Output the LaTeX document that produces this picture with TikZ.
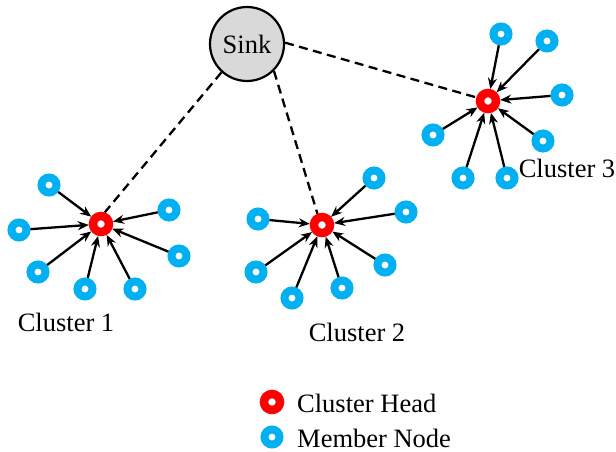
\documentclass[tikz,border=0pt]{standalone}
\usepackage{fontspec}
\setmainfont{Liberation Serif}
\usetikzlibrary{arrows.meta}
\definecolor{headred}{HTML}{FF0000}
\definecolor{memblue}{HTML}{00B0F0}
\definecolor{sinkgray}{HTML}{D9D9D9}
\tikzset{
  member/.style={circle,draw=memblue,line width=8pt,fill=white,inner sep=0pt,minimum size=15pt},
  head/.style={circle,draw=headred,line width=8.5pt,fill=white,inner sep=0pt,minimum size=16pt},
  sink/.style={circle,draw=black,line width=2.2pt,fill=sinkgray,inner sep=0pt,minimum size=74pt,font=\fontsize{26.5}{30}\selectfont},
  lbl/.style={inner sep=0pt,font=\fontsize{26.5}{30}\selectfont},
  link/.style={-{Stealth[length=11pt,width=9pt]},line width=2.3pt,black},
  dlink/.style={line width=2.3pt,black,dash pattern=on 9pt off 5.5pt}
}
\begin{document}
\begin{tikzpicture}[x=1pt,y=-1pt]
\useasboundingbox (0,0) rectangle (616,452);
% sink
\node[sink] (sink) at (247,44) {Sink};
% heads
\node[head] (h1) at (101,224) {};
\node[head] (h2) at (322,225) {};
\node[head] (h3) at (488,101) {};
% dashed links
\draw[dlink] (sink.228) -- (h1.72);
\draw[dlink] (sink.-45) -- (h2.112);
\draw[dlink] (sink.2) -- (h3.163);
% cluster 1
\node[member] (a1) at (49,185) {};
\node[member] (a2) at (19,230) {};
\node[member] (a3) at (38,272) {};
\node[member] (a4) at (85,289) {};
\node[member] (a5) at (135,289) {};
\node[member] (a6) at (179,256) {};
\node[member] (a7) at (169,210) {};
\foreach \m in {a1,a2,a3,a4,a5,a6,a7} \draw[link] (\m) -- (h1);
% cluster 2
\node[member] (b1) at (374,178) {};
\node[member] (b2) at (406,212) {};
\node[member] (b3) at (385,265) {};
\node[member] (b4) at (342,288) {};
\node[member] (b5) at (292,298) {};
\node[member] (b6) at (256,272) {};
\node[member] (b7) at (258,219) {};
\foreach \m in {b1,b2,b3,b4,b5,b6,b7} \draw[link] (\m) -- (h2);
% cluster 3
\node[member] (c1) at (501,34) {};
\node[member] (c2) at (547,41) {};
\node[member] (c3) at (562,95) {};
\node[member] (c4) at (543,141) {};
\node[member] (c5) at (507,178) {};
\node[member] (c6) at (463,178) {};
\node[member] (c7) at (433,135) {};
\foreach \m in {c1,c2,c3,c4,c5,c6,c7} \draw[link] (\m) -- (h3);
% labels
\node[lbl] (l1) at (66,322) {Cluster 1};
\node[lbl] (l2) at (357,332) {Cluster 2};
\node[lbl] (l3) at (567,168) {Cluster 3};
% legend
\node[head] (lh) at (272,402) {};
\node[member] (lm) at (272,437) {};
\node[lbl,anchor=west] (lht) at (297,403) {Cluster Head};
\node[lbl,anchor=west] (lmt) at (297,438) {Member Node};
\end{tikzpicture}
\end{document}
